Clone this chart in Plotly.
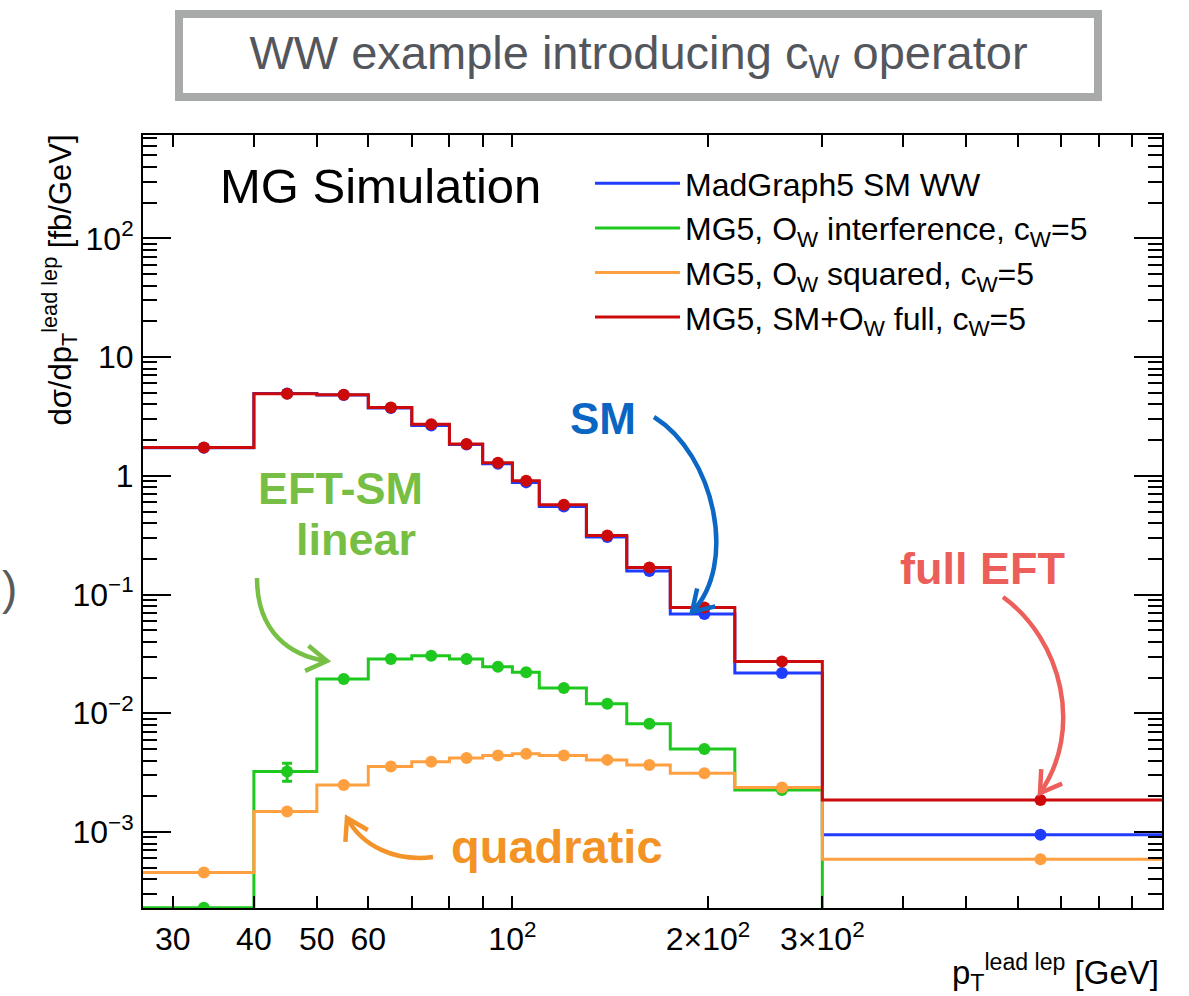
import math
import plotly.graph_objects as go

# Binning in p_T of the leading lepton [GeV]
bin_edges = [27, 40, 50, 60, 70, 80, 90, 100, 110, 130, 150, 175, 220, 300, 1000]

# dsigma/dpT [fb/GeV] per bin
sm_ww = [1.72, 4.93, 4.78, 3.72, 2.65, 1.83, 1.26, 0.88, 0.55, 0.305, 0.158, 0.0684, 0.0218, 9.5e-4]
interference = [2.3e-4, 3.23e-3, 0.0194, 0.0286, 0.0305, 0.0286, 0.0247, 0.0222, 0.0163,
                0.0120, 8.15e-3, 5.0e-3, 2.26e-3, 1.0e-4]
interference_err = [0, 5.6e-4, 0, 0, 0, 0, 0, 0, 0, 0, 0, 0, 0, 0]
squared = [4.55e-4, 1.49e-3, 2.49e-3, 3.56e-3, 3.9e-3, 4.2e-3, 4.4e-3, 4.55e-3, 4.4e-3,
           4.05e-3, 3.67e-3, 3.13e-3, 2.37e-3, 5.9e-4]
full = [1.73, 4.91, 4.81, 3.76, 2.72, 1.85, 1.29, 0.908, 0.57, 0.314, 0.169, 0.0777, 0.0273, 1.86e-3]

series_names = [
    "MadGraph5 SM WW",
    "MG5, O<sub>W</sub> interference, c<sub>W</sub>=5",
    "MG5, O<sub>W</sub> squared, c<sub>W</sub>=5",
    "MG5, SM+O<sub>W</sub> full, c<sub>W</sub>=5",
]
series_colors = ["#1f3cff", "#1ec81e", "#ffa040", "#cc0a0a"]

x_tick_vals = [30, 40, 50, 60, 100, 200, 300]
x_tick_text = ["30", "40", "50", "60", "10<sup>2</sup>", "2×10<sup>2</sup>", "3×10<sup>2</sup>"]
x_minor_vals = [70, 80, 90, 400, 500, 600, 700, 800, 900]
y_tick_vals = [1e-3, 1e-2, 1e-1, 1, 10, 100]
y_tick_text = ["10<sup>−3</sup>", "10<sup>−2</sup>", "10<sup>−1</sup>", "1", "10", "10<sup>2</sup>"]
y_minor_vals = [m * 10.0 ** k for k in range(-4, 3) for m in range(2, 10)]

FONT = "Liberation Sans, Arial, Helvetica, sans-serif"

# canvas geometry (pixels)
W, H = 1189, 996
L, R, T, B = 143, 27, 135, 88
PW, PH = W - L - R, H - T - B


def paper(x, y):
    return (x - L) / PW, (H - B - y) / PH


centers = [(a + b) / 2 for a, b in zip(bin_edges[:-1], bin_edges[1:])]

fig = go.Figure()

all_series = [sm_ww, interference, squared, full]
for name, color, vals in zip(series_names, series_colors, all_series):
    fig.add_trace(go.Scatter(
        x=bin_edges, y=vals + [vals[-1]], mode="lines", line_shape="hv",
        line=dict(color=color, width=3), name=name, hoverinfo="skip",
    ))
    err = interference_err if vals is interference else None
    fig.add_trace(go.Scatter(
        x=centers, y=vals, mode="markers", showlegend=False,
        marker=dict(color=color, size=12, symbol="circle"),
        error_y=dict(type="data", array=err, color=color, thickness=3, width=5) if err else None,
    ))

axis_common = dict(
    showline=True, linecolor="black", linewidth=2, mirror="allticks",
    ticks="inside", tickcolor="black", tickwidth=2, showgrid=False, zeroline=False,
    tickfont=dict(family=FONT, size=32, color="black"),
)

fig.update_xaxes(
    type="log", range=[math.log10(27), 3.0],
    tickmode="array", tickvals=x_tick_vals, ticktext=x_tick_text, ticklen=12,
    ticklabelstandoff=2,
    minor=dict(tickmode="array", tickvals=x_minor_vals, ticks="inside", ticklen=12,
               tickcolor="black", tickwidth=2),
    **axis_common,
)
fig.update_yaxes(
    type="log", range=[-3.64, 2.87],
    tickmode="array", tickvals=y_tick_vals, ticktext=y_tick_text, ticklen=28,
    ticklabelstandoff=1,
    minor=dict(tickmode="array", tickvals=y_minor_vals, ticks="inside", ticklen=14,
               tickcolor="black", tickwidth=2),
    **axis_common,
)

annotations = []


def text_at(x, y, text, size, color, bold=False, **kw):
    px, py = paper(x, y)
    annotations.append(dict(
        x=px, y=py, xref="paper", yref="paper", text=text, showarrow=False,
        font=dict(family=FONT, size=size, color=color, weight="bold" if bold else "normal"),
        xanchor=kw.pop("xanchor", "center"), yanchor=kw.pop("yanchor", "middle"), **kw,
    ))


# framed heading
text_at(638, 56, "WW example introducing c<sub>W</sub> operator", 47, "#53575d",
        bordercolor="#a7aaa9", borderwidth=8, borderpad=3, bgcolor="white",
        width=905, height=69)
text_at(380, 186, "MG Simulation", 49, "black")
text_at(9, 588, ")", 46, "#5a5a5a")

# axis titles
text_at(1161, 972, "p<sub>T</sub><sup>lead lep</sup> [GeV]", 33, "black", xanchor="right")
text_at(60, 133, "dσ/dp<sub>T</sub><sup>lead lep</sup> [fb/GeV]", 31, "black",
        textangle=-90, yanchor="top")

# callout labels
text_at(603, 418, "SM", 44, "#0a66c2", bold=True)
text_at(340, 488, "EFT-SM", 45, "#77bf44", bold=True)
text_at(356, 539, "linear", 45, "#77bf44", bold=True)
text_at(557, 846, "quadratic", 47, "#f39325", bold=True)
text_at(982, 568, "full EFT", 45, "#ec5e59", bold=True)

shapes = []


def curved_arrow(p0, c1, c2, p3, color, width=4.5, head=24, spread=32):
    pts = [paper(*p) for p in (p0, c1, c2, p3)]
    path = "M {},{} C {},{} {},{} {},{}".format(*[v for p in pts for v in p])
    shapes.append(dict(type="path", xref="paper", yref="paper", path=path,
                       line=dict(color=color, width=width)))
    dx, dy = p3[0] - c2[0], p3[1] - c2[1]
    n = math.hypot(dx, dy)
    ux, uy = -dx / n, -dy / n
    arms = []
    for s in (1, -1):
        a = math.radians(spread * s)
        ax = ux * math.cos(a) - uy * math.sin(a)
        ay = ux * math.sin(a) + uy * math.cos(a)
        arms.append((p3[0] + head * ax, p3[1] + head * ay))
    hp = [paper(*arms[0]), paper(*p3), paper(*arms[1])]
    shapes.append(dict(type="path", xref="paper", yref="paper",
                       path="M {},{} L {},{} L {},{}".format(*[v for p in hp for v in p]),
                       line=dict(color=color, width=width)))


curved_arrow((654, 417), (715, 455), (738, 565), (692, 612), "#0b68c4")
curved_arrow((257, 578), (257, 632), (290, 656), (327, 661), "#78bf45")
curved_arrow((433, 857), (395, 862), (362, 846), (347, 818), "#f3932a")
curved_arrow((1003, 597), (1062, 640), (1084, 730), (1040, 793), "#ec5f5a")

lx, ly = paper(590, 156)
fig.update_layout(
    width=W, height=H,
    margin=dict(l=L, r=R, t=T, b=B),
    paper_bgcolor="white", plot_bgcolor="white",
    font=dict(family=FONT, color="black"),
    showlegend=True,
    legend=dict(x=lx, y=ly, xanchor="left", yanchor="top", bgcolor="rgba(0,0,0,0)",
                font=dict(family=FONT, size=32, color="black"), itemwidth=85,
                tracegroupgap=0),
    annotations=annotations,
    shapes=shapes,
)

fig.write_html("out.html")
